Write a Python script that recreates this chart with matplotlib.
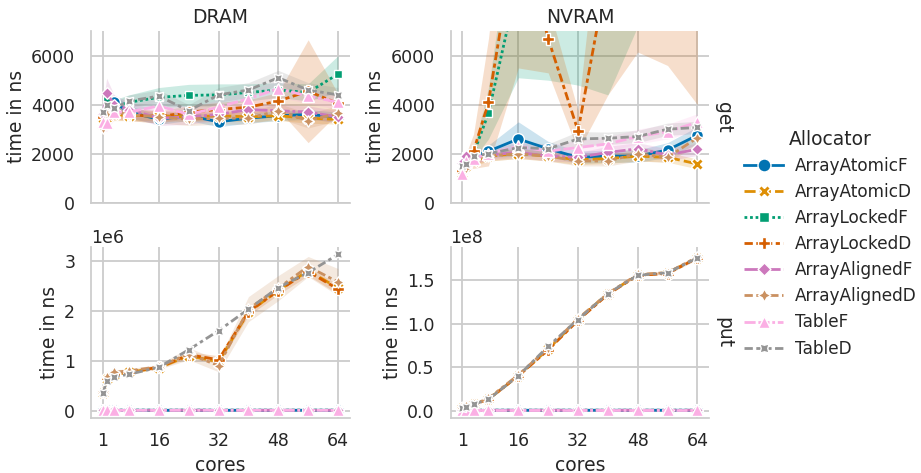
import numpy as np
import matplotlib
matplotlib.use("Agg")
import matplotlib.pyplot as plt

# cores on the x axis
CORES = [1, 2, 4, 8, 16, 24, 32, 40, 48, 56, 64]

ALLOCATORS = ["ArrayAtomicF", "ArrayAtomicD", "ArrayLockedF", "ArrayLockedD",
              "ArrayAlignedF", "ArrayAlignedD", "TableF", "TableD"]

# colorblind palette, seaborn default markers / dashes
COLORS = ["#0173b2", "#de8f05", "#029e73", "#d55e00",
          "#cc78bc", "#ca9161", "#fbafe4", "#949494"]
MARKERS = ["o", "X", (4, 0, 45), "P", (4, 0, 0), (4, 1, 0), "^", (4, 1, 45)]
DASHES = [None, (4, 1.5), (1, 1), (3, 1.25, 1.5, 1.25), (5, 1, 1, 1),
          (3, 1.25, 1.25, 1.25, 1.25, 1.25), (4, 1, 4, 1, 1, 1),
          (3, 1.25, 3, 1.25, 1.25, 1.25)]

# ---- get, DRAM (ns) ----
dram_get = {
    "ArrayAtomicF":  [3450, 3600, 4100, 3700, 3400, 3550, 3300, 3450, 3550, 3600, 3500],
    "ArrayAtomicD":  [3200, 3500, 3600, 3550, 3550, 3500, 3550, 3500, 3550, 3450, 3400],
    "ArrayLockedF":  [3700, 4200, 3900, 4100, 4300, 4380, 4400, 4500, 4600, 4500, 5250],
    "ArrayLockedD":  [3500, 3700, 3700, 3600, 3500, 3700, 3800, 3900, 4150, 4550, 4050],
    "ArrayAlignedF": [3600, 4480, 4000, 3800, 3450, 3500, 3600, 3800, 3750, 3700, 3500],
    "ArrayAlignedD": [3050, 3600, 3700, 3600, 3500, 3400, 3450, 3450, 3750, 3350, 3650],
    "TableF":        [3300, 3250, 3700, 3700, 3950, 3600, 3900, 4250, 4650, 4350, 4100],
    "TableD":        [3700, 4000, 3850, 4150, 4350, 3750, 4400, 4600, 5100, 4600, 4400],
}
dram_get_err = {
    "ArrayAtomicF":  [300, 300, 300, 250, 200, 200, 200, 200, 200, 200, 200],
    "ArrayAtomicD":  [300, 250, 250, 200, 200, 200, 200, 200, 200, 200, 200],
    "ArrayLockedF":  [400, 300, 300, 300, 400, 450, 450, 350, 300, 350, 750],
    "ArrayLockedD":  [300, 300, 300, 250, 250, 250, 300, 300, 350, 2100, 400],
    "ArrayAlignedF": [400, 600, 400, 300, 300, 300, 250, 250, 250, 250, 250],
    "ArrayAlignedD": [350, 300, 250, 250, 250, 250, 250, 250, 300, 300, 300],
    "TableF":        [350, 350, 300, 300, 300, 300, 300, 300, 350, 300, 300],
    "TableD":        [300, 250, 250, 250, 250, 250, 300, 300, 300, 300, 300],
}

# ---- get, NVRAM (ns) ----
nvram_get = {
    "ArrayAtomicF":  [1300, 1700, 1900, 2100, 2600, 2200, 1850, 1900, 1900, 2150, 2750],
    "ArrayAtomicD":  [1200, 1500, 1700, 1900, 2000, 1900, 1750, 1800, 1900, 1850, 1580],
    "ArrayLockedF":  [1300, 1900, 2000, 3650, 9100, 9000, 9000, 9500, 10000, 10500, 11000],
    "ArrayLockedD":  [1300, 1700, 2100, 4100, 11500, 6700, 2930, 9500, 10000, 10000, 10000],
    "ArrayAlignedF": [1600, 1900, 1800, 1950, 2050, 1900, 1850, 2050, 2200, 1950, 2180],
    "ArrayAlignedD": [1200, 1400, 1800, 1900, 2000, 1900, 1700, 1700, 2000, 1850, 2650],
    "TableF":        [1150, 1700, 1800, 2000, 2300, 2100, 2250, 2400, 2700, 2900, 3280],
    "TableD":        [1500, 1560, 1900, 2000, 2250, 2200, 2600, 2630, 2700, 3000, 3070],
}
nvram_get_err = {
    "ArrayAtomicF":  [150, 200, 200, 250, 700, 300, 250, 250, 250, 300, 350],
    "ArrayAtomicD":  [150, 200, 200, 200, 200, 200, 200, 200, 200, 200, 200],
    "ArrayLockedF":  [200, 200, 200, 1050, 4000, 4000, 4200, 5100, 2800, 3000, 3500],
    "ArrayLockedD":  [200, 300, 700, 2600, 6000, 1400, 830, 5100, 3850, 4400, 6000],
    "ArrayAlignedF": [200, 200, 200, 200, 200, 200, 200, 250, 250, 250, 250],
    "ArrayAlignedD": [200, 200, 200, 200, 200, 200, 200, 200, 300, 200, 300],
    "TableF":        [200, 200, 200, 250, 250, 250, 300, 300, 300, 300, 350],
    "TableD":        [150, 150, 200, 200, 200, 200, 300, 250, 250, 250, 250],
}

# ---- put, DRAM (millions of ns) ----
dram_put = {
    "ArrayAtomicF":  [0.012, 0.013, 0.012, 0.013, 0.012, 0.013, 0.012, 0.013, 0.012, 0.013, 0.012],
    "ArrayAtomicD":  [0.36, 0.64, 0.72, 0.77, 0.86, 1.10, 0.98, 1.97, 2.40, 2.80, 2.45],
    "ArrayLockedF":  [0.015, 0.016, 0.015, 0.016, 0.015, 0.016, 0.015, 0.016, 0.015, 0.016, 0.015],
    "ArrayLockedD":  [0.37, 0.65, 0.74, 0.78, 0.87, 1.12, 1.02, 1.98, 2.40, 2.78, 2.43],
    "ArrayAlignedF": [0.012, 0.012, 0.013, 0.012, 0.012, 0.013, 0.012, 0.012, 0.013, 0.012, 0.012],
    "ArrayAlignedD": [0.37, 0.67, 0.77, 0.80, 0.88, 1.14, 0.90, 2.03, 2.45, 2.88, 2.57],
    "TableF":        [0.011, 0.011, 0.012, 0.011, 0.011, 0.012, 0.011, 0.011, 0.012, 0.011, 0.011],
    "TableD":        [0.35, 0.60, 0.68, 0.73, 0.87, 1.22, 1.60, 2.03, 2.46, 2.76, 3.12],
}
dram_put_err = {
    "ArrayLockedD":  [0.02, 0.03, 0.03, 0.03, 0.03, 0.06, 0.08, 0.08, 0.08, 0.08, 0.10],
    "ArrayAlignedD": [0.03, 0.05, 0.05, 0.04, 0.05, 0.12, 0.12, 0.25, 0.25, 0.20, 0.27],
}

# ---- put, NVRAM (1e8 ns) ----
nvram_put = {
    "ArrayAtomicF":  [0.002, 0.002, 0.003, 0.003, 0.003, 0.003, 0.003, 0.003, 0.003, 0.003, 0.003],
    "ArrayAtomicD":  [0.03, 0.04, 0.07, 0.13, 0.40, 0.71, 1.05, 1.35, 1.56, 1.59, 1.76],
    "ArrayLockedF":  [0.003, 0.003, 0.003, 0.004, 0.004, 0.004, 0.004, 0.004, 0.004, 0.004, 0.004],
    "ArrayLockedD":  [0.03, 0.04, 0.07, 0.13, 0.40, 0.70, 1.04, 1.34, 1.56, 1.58, 1.76],
    "ArrayAlignedF": [0.002, 0.002, 0.003, 0.003, 0.003, 0.003, 0.003, 0.003, 0.003, 0.003, 0.003],
    "ArrayAlignedD": [0.03, 0.05, 0.07, 0.14, 0.41, 0.72, 1.06, 1.35, 1.57, 1.59, 1.77],
    "TableF":        [0.002, 0.002, 0.002, 0.002, 0.002, 0.002, 0.002, 0.002, 0.002, 0.002, 0.002],
    "TableD":        [0.03, 0.04, 0.07, 0.13, 0.40, 0.74, 1.05, 1.35, 1.56, 1.59, 1.76],
}
nvram_put_err = {
    "ArrayAlignedD": [0.005, 0.005, 0.01, 0.01, 0.02, 0.03, 0.02, 0.02, 0.02, 0.02, 0.03],
}

TEXT = "#262626"
plt.rcParams.update({
    "font.family": "DejaVu Sans",
    "axes.edgecolor": "#cccccc",
    "axes.linewidth": 1.25,
    "axes.grid": True,
    "axes.axisbelow": True,
    "grid.color": "#cccccc",
    "grid.linewidth": 1.3,
    "axes.spines.top": False,
    "axes.spines.right": False,
    "text.color": TEXT,
    "axes.labelcolor": TEXT,
    "xtick.color": TEXT,
    "ytick.color": TEXT,
    "xtick.labelsize": 12.5,
    "ytick.labelsize": 12.5,
    "axes.labelsize": 13.5,
    "axes.titlesize": 13.5,
})


def draw(ax, means, err, scale):
    handles = []
    for name, c, m, d in zip(ALLOCATORS, COLORS, MARKERS, DASHES):
        y = np.array(means[name]) * scale
        if name in err:
            e = np.array(err[name]) * scale
            ax.fill_between(CORES, y - e, y + e, color=c, alpha=0.2, linewidth=0)
        line, = ax.plot(CORES, y, color=c, lw=2.0, marker=m, ms=8.5,
                        mec="white", mew=1.0, label=name)
        if d is not None:
            line.set_dashes(d)
        handles.append(line)
    return handles


fig, axes = plt.subplots(2, 2, figsize=(9.21, 4.73), dpi=100, sharex=True)
fig.subplots_adjust(left=0.099, right=0.770, bottom=0.116, top=0.934,
                    wspace=0.39, hspace=0.257)

handles = draw(axes[0, 0], dram_get, dram_get_err, 1)
draw(axes[0, 1], nvram_get, nvram_get_err, 1)
draw(axes[1, 0], dram_put, dram_put_err, 1e6)
draw(axes[1, 1], nvram_put, nvram_put_err, 1e8)

for ax in axes[0]:
    ax.set_ylim(0, 7000)
    ax.set_yticks([0, 2000, 4000, 6000])
axes[1, 0].set_yticks([0, 1e6, 2e6, 3e6])
axes[1, 1].set_yticks([0, 0.5e8, 1e8, 1.5e8])

for ax in axes.flat:
    ax.set_xticks([1, 16, 32, 48, 64])
    ax.set_ylabel("time in ns")
    ax.tick_params(axis="both", length=0)
    ax.tick_params(axis="y", pad=11.5)
    ax.tick_params(axis="x", pad=10)
for ax in axes[1]:
    ax.set_xlabel("cores")

axes[0, 0].set_title("DRAM")
axes[0, 1].set_title("NVRAM")
for ax, op in zip(axes[:, 1], ["get", "put"]):
    ax.annotate(op, xy=(1.02, 0.5), xycoords="axes fraction", rotation=270,
                ha="left", va="center", fontsize=13.5)

fig.legend(handles, ALLOCATORS, title="Allocator", loc="center left",
           bbox_to_anchor=(0.801, 0.485), frameon=False, fontsize=12.2,
           title_fontsize=13.5, labelspacing=0.48, handlelength=2.3,
           handletextpad=0.7, borderaxespad=0, markerscale=1.1)

fig.savefig("out.png", dpi=100)
